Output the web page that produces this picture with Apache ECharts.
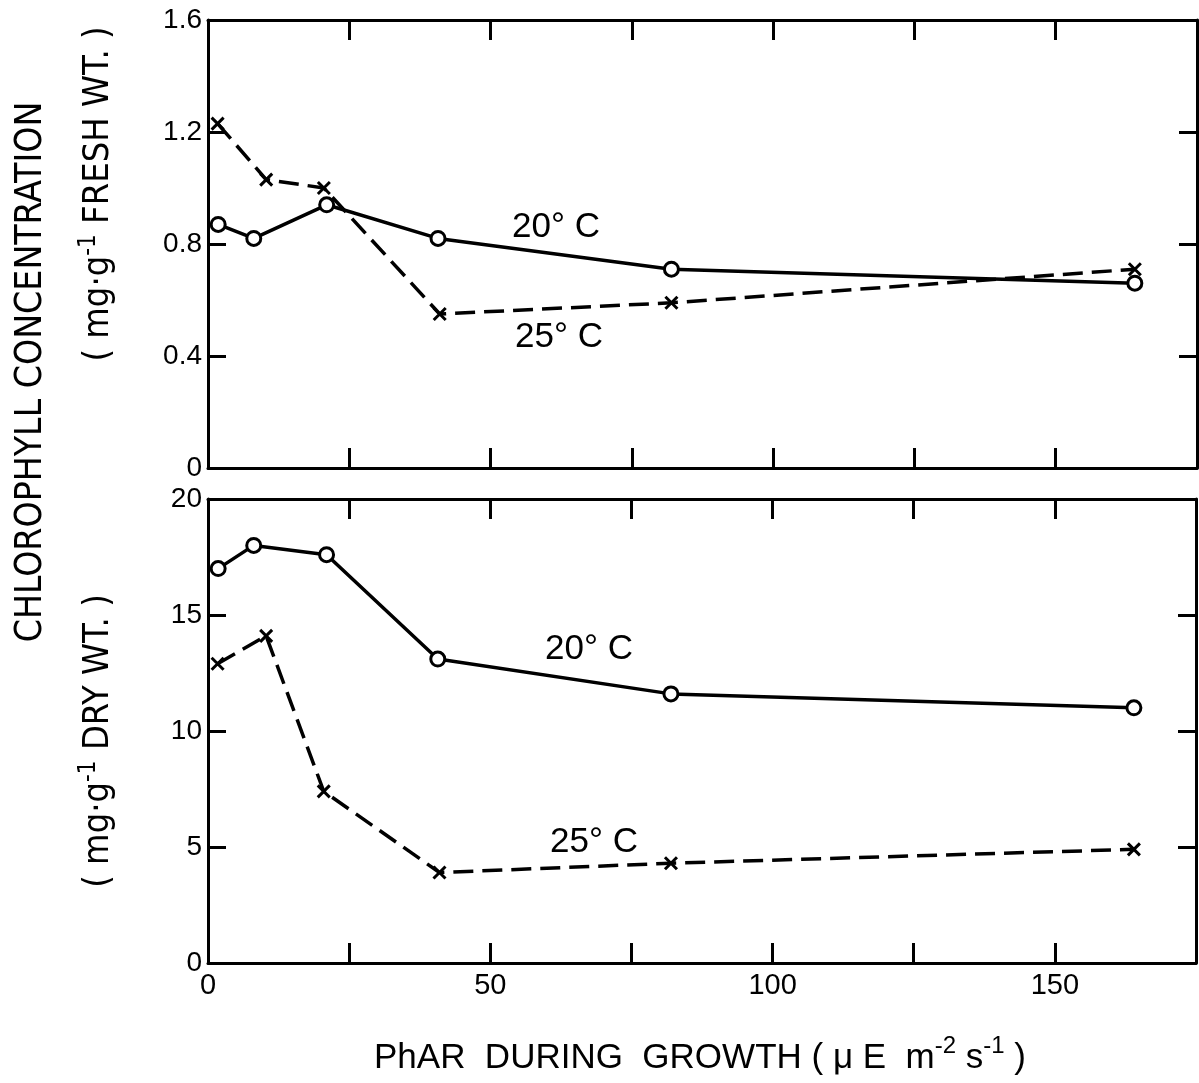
<!DOCTYPE html>
<html>
<head>
<meta charset="utf-8">
<script src="https://cdn.jsdelivr.net/npm/echarts@6/dist/echarts.min.js"></script>
<style>
html,body{margin:0;padding:0;background:#fff;}
#c{width:1199px;height:1083px;}
</style>
</head>
<body>
<div id="c"></div>
<script>
// ---- data ----
const phar20 = [1.8, 8.1, 21, 40.7, 82, 164];
const phar25 = [1.7, 10.3, 20.5, 41, 82, 164];
const fresh20 = [0.87, 0.82, 0.94, 0.82, 0.71, 0.66];
const fresh25 = [1.23, 1.03, 1.00, 0.55, 0.59, 0.71];
const dry20 = [17.0, 18.0, 17.6, 13.1, 11.6, 11.0];
const dry25 = [12.9, 14.1, 7.4, 3.9, 4.3, 4.9];
const xTickLabels = ['0', '50', '100', '150'];
const seriesNames = ['20°C', '25°C'];
const yTitle = 'CHLOROPHYLL CONCENTRATION';

const pair = (xs, ys) => xs.map((x, i) => [x, ys[i]]);
const FONT = "'Liberation Sans Narrow','DejaVu Sans Condensed','Liberation Sans',sans-serif";
const FONT2 = "'Liberation Sans','DejaVu Sans',sans-serif";
const INK = '#000';
const crossPath = 'path://M0,0L10,10M10,0L0,10';

const chart = echarts.init(document.getElementById('c'));

function xAxisDef(gridIndex, showLabels, position) {
  return {
    type: 'value', gridIndex, min: 0, max: 175, interval: 25, position,
    axisLine: {show: true, onZero: false, lineStyle: {color: INK, width: 3}},
    axisTick: {show: true, inside: true, length: 20, lineStyle: {color: INK, width: 3}},
    splitLine: {show: false},
    axisLabel: {
      show: showLabels, color: INK, fontFamily: FONT2, fontSize: 29, margin: 8,
      formatter: v => (xTickLabels.indexOf(String(v)) >= 0 ? String(v) : '')
    }
  };
}
function yAxisDef(gridIndex, max, interval, showLabels, position, fmt) {
  return {
    type: 'value', gridIndex, min: 0, max, interval, position,
    axisLine: {show: true, onZero: false, lineStyle: {color: INK, width: 3}},
    axisTick: {show: true, inside: true, length: 18, lineStyle: {color: INK, width: 3}},
    splitLine: {show: false},
    axisLabel: {show: showLabels, color: INK, fontFamily: FONT2, fontSize: 28, margin: 6, formatter: fmt}
  };
}

const solid = {color: INK, width: 3.5, type: 'solid'};
const dashed = {color: INK, width: 3.5, type: [20, 9]};
const circleStyle = {color: '#fff', borderColor: INK, borderWidth: 3};
const crossStyle = {color: INK, borderColor: INK, borderWidth: 3};

const richSub = {
  n: {fill: INK, fontFamily: FONT, fontSize: 36, lineHeight: 40, verticalAlign: 'bottom'},
  s: {fill: INK, fontFamily: FONT, fontSize: 24, lineHeight: 40, verticalAlign: 'top'}
};
const richX = {
  n: {fill: INK, fontFamily: FONT2, fontSize: 35, lineHeight: 42, verticalAlign: 'bottom'},
  s: {fill: INK, fontFamily: FONT2, fontSize: 24, lineHeight: 42, verticalAlign: 'top'}
};

chart.setOption({
  backgroundColor: '#fff',
  animation: false,
  grid: [
    {left: 208, right: 2, top: 20, height: 448},
    {left: 208, right: 2, top: 499, height: 464}
  ],
  xAxis: [
    xAxisDef(0, false, 'bottom'),
    xAxisDef(0, false, 'top'),
    xAxisDef(1, true, 'bottom'),
    xAxisDef(1, false, 'top')
  ],
  yAxis: [
    yAxisDef(0, 1.6, 0.4, true, 'left', v => (v === 0 ? '0' : v.toFixed(1))),
    yAxisDef(0, 1.6, 0.4, false, 'right'),
    yAxisDef(1, 20, 5, true, 'left', v => String(v)),
    yAxisDef(1, 20, 5, false, 'right')
  ],
  series: [
    {name: seriesNames[0], type: 'line', xAxisIndex: 0, yAxisIndex: 0, data: pair(phar20, fresh20),
     symbol: 'circle', symbolSize: 14, lineStyle: solid, itemStyle: circleStyle, z: 3},
    {name: seriesNames[1], type: 'line', xAxisIndex: 0, yAxisIndex: 0, data: pair(phar25, fresh25),
     symbol: crossPath, symbolSize: 12, lineStyle: dashed, itemStyle: crossStyle, z: 2},
    {name: seriesNames[0], type: 'line', xAxisIndex: 2, yAxisIndex: 2, data: pair(phar20, dry20),
     symbol: 'circle', symbolSize: 14, lineStyle: solid, itemStyle: circleStyle, z: 3},
    {name: seriesNames[1], type: 'line', xAxisIndex: 2, yAxisIndex: 2, data: pair(phar25, dry25),
     symbol: crossPath, symbolSize: 12, lineStyle: dashed, itemStyle: crossStyle, z: 2}
  ],
  graphic: [
    {type: 'text', left: 512, top: 210, style: {text: '20° C', fill: INK, font: '35px ' + FONT2}},
    {type: 'text', left: 515, top: 320, style: {text: '25° C', fill: INK, font: '35px ' + FONT2}},
    {type: 'text', left: 545, top: 632, style: {text: '20° C', fill: INK, font: '35px ' + FONT2}},
    {type: 'text', left: 550, top: 825, style: {text: '25° C', fill: INK, font: '35px ' + FONT2}},
    {type: 'text', x: 31, y: 372, rotation: Math.PI / 2,
     style: {text: yTitle, fill: INK, font: '37px ' + FONT, align: 'center', verticalAlign: 'middle'}},
    {type: 'text', x: 97, y: 194, rotation: Math.PI / 2,
     style: {text: '{n|( mg·g}{s|-1}{n| FRESH WT. )}', rich: richSub, align: 'center', verticalAlign: 'middle'}},
    {type: 'text', x: 97, y: 741, rotation: Math.PI / 2,
     style: {text: '{n|( mg·g}{s|-1}{n| DRY WT. )}', rich: richSub, align: 'center', verticalAlign: 'middle'}},
    {type: 'text', x: 700, y: 1055,
     style: {text: '{n|PhAR  DURING  GROWTH ( μ E  m}{s|-2}{n| s}{s|-1}{n| )}', rich: richX, align: 'center', verticalAlign: 'middle'}}
  ]
});
</script>
</body>
</html>
